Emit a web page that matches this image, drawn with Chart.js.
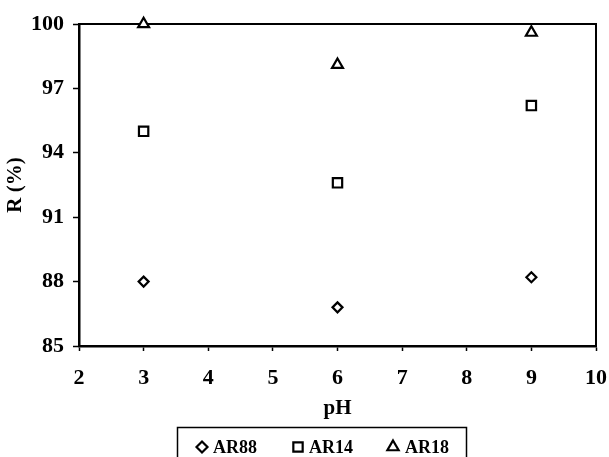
<!DOCTYPE html>
<html>
<head>
<meta charset="utf-8">
<script src="https://cdn.jsdelivr.net/npm/chart.js@4.4.0/dist/chart.umd.min.js"></script>
<style>
html,body{margin:0;padding:0;background:#fff;}
#wrap{width:609px;height:457px;}
</style>
</head>
<body>
<div id="wrap"><canvas id="c" width="609" height="457"></canvas></div>
<script>
const pH = [3, 6, 9];
const AR88 = [88.0, 86.8, 88.2];
const AR14 = [95.0, 92.6, 96.2];
const AR18 = [100.0, 98.1, 99.6];
const xTicks = [2, 3, 4, 5, 6, 7, 8, 9, 10];
const yTicks = [85, 88, 91, 94, 97, 100];
const seriesNames = ['AR88', 'AR14', 'AR18'];

const FONT = 'Liberation Serif, Times New Roman, serif';

function pts(ys){ return pH.map((x,i)=>({x:x,y:ys[i]})); }

const frame = {
  id:'frame',
  beforeDatasetsDraw(chart){
    const {ctx, chartArea:a} = chart;
    ctx.save();
    ctx.strokeStyle='#000';
    ctx.lineWidth=2;
    ctx.beginPath();
    ctx.moveTo(a.left, a.top); ctx.lineTo(a.right, a.top); ctx.lineTo(a.right, a.bottom);
    ctx.stroke();
    ctx.restore();
  },
  afterDraw(chart){
    const ctx = chart.ctx;
    ctx.save();
    ctx.strokeStyle='#000';
    ctx.lineWidth=1.5;
    ctx.strokeRect(177.5, 427.5, 289, 40);
    const items = [[202, 213],[298, 309],[393, 405]];
    ctx.textBaseline='middle';
    chart.data.datasets.forEach((ds,i)=>{
      const [mx, tx] = items[i];
      ctx.lineWidth = 2.2;
      ctx.strokeStyle='#000';
      ctx.fillStyle='#fff';
      Chart.helpers.drawPoint(ctx, {pointStyle: ds.pointStyle, rotation:0, borderWidth:2.2, radius: ds.legendRadius}, mx, 447);
      ctx.fillStyle='#000';
      ctx.font = 'bold 18px ' + FONT;
      ctx.fillText(ds.label, tx, 448);
    });
    ctx.restore();
  }
};

new Chart(document.getElementById('c'), {
  type:'scatter',
  data:{
    datasets:[
      {label:seriesNames[0], data:pts(AR88), pointStyle:'rectRot', pointRadius:5, legendRadius:5.5, borderColor:'#000', backgroundColor:'#fff', borderWidth:2.2, clip:false},
      {label:seriesNames[1], data:pts(AR14), pointStyle:'rect', pointRadius:6.6, legendRadius:6.6, borderColor:'#000', backgroundColor:'#fff', borderWidth:2.2, clip:false},
      {label:seriesNames[2], data:pts(AR18), pointStyle:'triangle', pointRadius:6.3, legendRadius:6.5, borderColor:'#000', backgroundColor:'#fff', borderWidth:2.2, clip:false}
    ]
  },
  options:{
    responsive:false,
    animation:false,
    layout:{padding:{left:0, right:13, top:24, bottom:32}},
    plugins:{legend:{display:false}, tooltip:{enabled:false}},
    scales:{
      x:{
        type:'linear', min:2, max:10,
        afterBuildTicks(s){ s.ticks = xTicks.map(v=>({value:v})); },
        afterFit(s){ s.height = 79; s.paddingLeft = 0; s.paddingRight = 0; },
        grid:{drawOnChartArea:false, drawTicks:true, tickLength:5, color:'#000', tickWidth:1.5},
        border:{display:true, color:'#000', width:2.5},
        ticks:{color:'#000', font:{family:FONT, size:22, weight:'bold'}, padding:14, maxRotation:0},
        title:{display:true, text:'pH', color:'#000', font:{family:FONT, size:21, weight:'bold'}, padding:{top:4,bottom:4}}
      },
      y:{
        type:'linear', min:85, max:100,
        afterBuildTicks(s){ s.ticks = yTicks.map(v=>({value:v})); },
        afterFit(s){ s.width = 79; s.paddingTop = 0; s.paddingBottom = 0; },
        grid:{drawOnChartArea:false, drawTicks:true, tickLength:6, color:'#000', tickWidth:1.5},
        border:{display:true, color:'#000', width:2.5},
        ticks:{color:'#000', font:{family:FONT, size:22, weight:'bold'}, padding:9},
        title:{display:true, text:'R (%)', color:'#000', font:{family:FONT, size:21, weight:'bold'}, padding:{top:3,bottom:4}}
      }
    }
  },
  plugins:[frame]
});
</script>
</body>
</html>
